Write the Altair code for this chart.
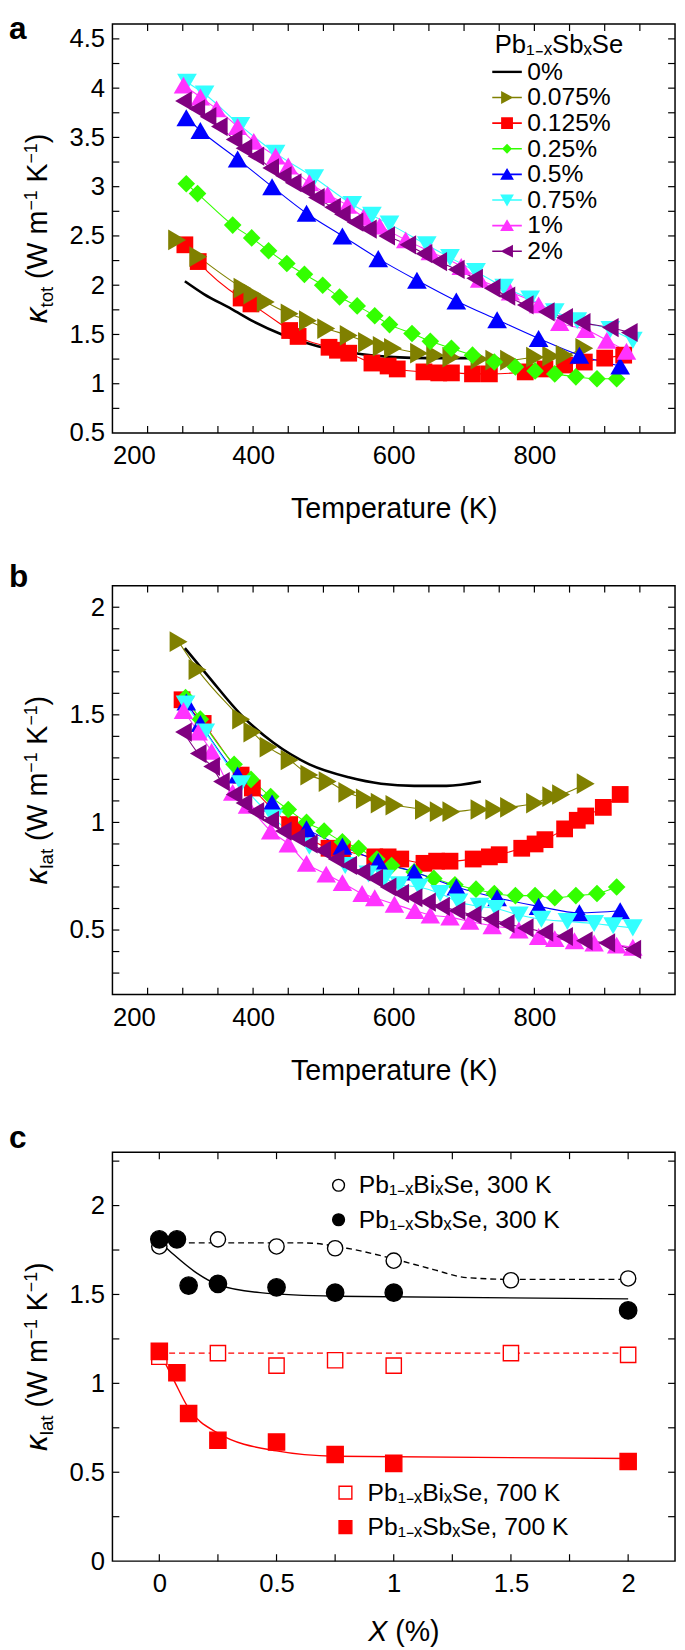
import altair as alt
import pandas as pd

FONT = "Liberation Sans"
W, H = 571, 415

SERIES = ["0%", "0.075%", "0.125%", "0.25%", "0.5%", "0.75%", "1%", "2%"]
COLORS = ["#000000", "#808000", "#ff0000", "#33ff00", "#0000ff", "#33ffff", "#ff33ff", "#800080"]
MARKER_SHAPES = ["circle", "triangle-right", "square", "diamond", "triangle-up",
                 "triangle-down", "triangle-up", "triangle-left"]
MARKER_SIZES = [10, 440, 290, 320, 400, 400, 390, 380]

LN = "M-1.5,-0.08L1.5,-0.08L1.5,0.08L-1.5,0.08Z"
LEGEND_PATHS = [
    "M-1.5,-0.12L1.5,-0.12L1.5,0.12L-1.5,0.12Z",
    LN + "M-0.6,-0.65L0.65,0L-0.6,0.65Z",
    LN + "M-0.6,-0.6L0.6,-0.6L0.6,0.6L-0.6,0.6Z",
    LN + "M0,-0.5L0.5,0L0,0.5L-0.5,0Z",
    LN + "M0,-0.65L0.7,0.55L-0.7,0.55Z",
    LN + "M-0.7,-0.55L0.7,-0.55L0,0.65Z",
    LN + "M0,-0.65L0.7,0.55L-0.7,0.55Z",
    LN + "M0.6,-0.65L0.6,0.65L-0.65,0Z",
]

# ---------------- panel a : total thermal conductivity ----------------
A_T_000 = [303, 330, 369, 401, 441, 492, 555, 600, 650, 700, 720]
A_K_000 = [2.04, 1.91, 1.76, 1.63, 1.50, 1.38, 1.30, 1.27, 1.26, 1.26, 1.26]
A_T_0075 = [292, 322, 385, 399, 418, 452, 478, 504, 536, 562, 583, 599, 636, 659, 682, 722, 743, 764, 801, 824, 843, 871]
A_K_0075 = [2.46, 2.29, 1.97, 1.91, 1.83, 1.71, 1.64, 1.56, 1.49, 1.42, 1.38, 1.36, 1.31, 1.29, 1.27, 1.25, 1.24, 1.24, 1.27, 1.28, 1.29, 1.36]
A_T_0125 = [303, 322, 383, 397, 452, 464, 508, 520, 536, 569, 592, 605, 643, 664, 682, 712, 736, 787, 815, 843, 871, 900, 927]
A_K_0125 = [2.41, 2.24, 1.87, 1.81, 1.54, 1.48, 1.37, 1.34, 1.31, 1.21, 1.18, 1.15, 1.12, 1.11, 1.11, 1.10, 1.10, 1.12, 1.15, 1.19, 1.22, 1.26, 1.29]
A_T_025 = [305, 321, 371, 398, 422, 448, 473, 499, 523, 548, 573, 594, 626, 652, 682, 712, 743, 773, 801, 829, 859, 889, 917]
A_K_025 = [3.03, 2.93, 2.61, 2.48, 2.35, 2.22, 2.11, 2.00, 1.88, 1.79, 1.69, 1.60, 1.51, 1.43, 1.36, 1.29, 1.22, 1.17, 1.13, 1.10, 1.07, 1.05, 1.05]
A_T_05 = [305, 325, 378, 427, 476, 527, 578, 633, 689, 747, 806, 864, 922]
A_K_05 = [3.70, 3.57, 3.28, 3.00, 2.73, 2.50, 2.27, 2.05, 1.84, 1.65, 1.46, 1.29, 1.18]
A_T_075 = [306, 331, 382, 432, 487, 541, 569, 594, 647, 680, 717, 757, 794, 829, 861, 908, 940]
A_K_075 = [4.06, 3.94, 3.62, 3.34, 3.09, 2.82, 2.71, 2.62, 2.41, 2.28, 2.14, 1.98, 1.86, 1.73, 1.64, 1.55, 1.44]
A_T_1 = [301, 325, 348, 378, 401, 432, 450, 480, 506, 534, 557, 580, 617, 652, 696, 722, 766, 806, 836, 873, 903, 931]
A_K_1 = [4.03, 3.91, 3.79, 3.61, 3.46, 3.31, 3.21, 3.04, 2.92, 2.81, 2.69, 2.60, 2.46, 2.34, 2.19, 2.06, 1.93, 1.80, 1.62, 1.55, 1.44, 1.33]
A_T_2 = [301, 320, 336, 352, 373, 387, 404, 425, 443, 457, 476, 490, 513, 527, 545, 564, 590, 620, 643, 664, 689, 715, 740, 761, 787, 817, 843, 868, 908, 935]
A_K_2 = [3.87, 3.79, 3.71, 3.61, 3.48, 3.39, 3.31, 3.19, 3.11, 3.04, 2.97, 2.89, 2.79, 2.72, 2.64, 2.57, 2.50, 2.41, 2.32, 2.24, 2.16, 2.07, 1.97, 1.89, 1.80, 1.73, 1.67, 1.62, 1.57, 1.52]

# ---------------- panel b : lattice thermal conductivity ----------------
B_T_000 = [303, 336, 383, 429, 480, 536, 582, 629, 675, 724]
B_K_000 = [1.81, 1.68, 1.50, 1.37, 1.27, 1.21, 1.18, 1.17, 1.17, 1.19]
B_T_0075 = [294, 321, 383, 399, 422, 452, 480, 506, 534, 559, 580, 601, 643, 664, 682, 722, 743, 764, 801, 824, 838, 873]
B_K_0075 = [1.84, 1.71, 1.48, 1.42, 1.35, 1.29, 1.22, 1.19, 1.14, 1.11, 1.09, 1.08, 1.06, 1.05, 1.05, 1.06, 1.06, 1.07, 1.09, 1.12, 1.13, 1.18]
B_T_0125 = [299, 329, 383, 399, 452, 464, 508, 527, 573, 592, 610, 643, 661, 680, 713, 736, 750, 782, 801, 815, 843, 861, 873, 898, 922]
B_K_0125 = [1.57, 1.46, 1.22, 1.16, 0.99, 0.96, 0.88, 0.87, 0.84, 0.84, 0.83, 0.81, 0.82, 0.82, 0.83, 0.84, 0.85, 0.88, 0.90, 0.92, 0.97, 1.01, 1.03, 1.07, 1.13]
B_T_025 = [304, 325, 373, 397, 425, 450, 476, 501, 527, 550, 576, 597, 629, 657, 687, 717, 743, 773, 801, 829, 859, 889, 917]
B_K_025 = [1.58, 1.48, 1.27, 1.20, 1.12, 1.06, 1.00, 0.96, 0.91, 0.88, 0.83, 0.80, 0.77, 0.74, 0.71, 0.69, 0.67, 0.66, 0.66, 0.65, 0.66, 0.67, 0.70]
B_T_05 = [305, 325, 378, 427, 476, 527, 578, 629, 689, 747, 806, 864, 922]
B_K_05 = [1.56, 1.46, 1.22, 1.09, 0.97, 0.89, 0.82, 0.77, 0.70, 0.65, 0.61, 0.58, 0.59]
B_T_075 = [304, 332, 383, 429, 480, 531, 564, 587, 608, 636, 666, 692, 722, 745, 778, 810, 847, 885, 912, 940]
B_K_075 = [1.55, 1.42, 1.18, 1.02, 0.89, 0.80, 0.76, 0.74, 0.71, 0.70, 0.67, 0.63, 0.61, 0.60, 0.57, 0.55, 0.54, 0.53, 0.52, 0.51]
B_T_1 = [301, 322, 341, 371, 392, 425, 450, 476, 504, 527, 555, 573, 601, 630, 652, 680, 708, 740, 778, 806, 829, 857, 885, 917, 940]
B_K_1 = [1.52, 1.42, 1.33, 1.14, 1.08, 0.96, 0.90, 0.81, 0.76, 0.72, 0.67, 0.65, 0.62, 0.59, 0.57, 0.56, 0.54, 0.52, 0.50, 0.47, 0.46, 0.45, 0.44, 0.43, 0.42]
B_T_2 = [301, 322, 341, 355, 373, 387, 404, 425, 443, 462, 480, 499, 518, 536, 555, 573, 592, 610, 629, 648, 668, 690, 713, 738, 760, 787, 815, 843, 871, 903, 940]
B_K_2 = [1.42, 1.32, 1.26, 1.19, 1.13, 1.09, 1.05, 1.01, 0.96, 0.93, 0.90, 0.87, 0.83, 0.80, 0.77, 0.74, 0.70, 0.67, 0.65, 0.63, 0.61, 0.59, 0.57, 0.55, 0.53, 0.51, 0.49, 0.47, 0.45, 0.44, 0.41]

# ---------------- panel c : lattice conductivity vs composition ----------------
C_NAMES_300 = ["Pb₁₋ₓBiₓSe, 300 K", "Pb₁₋ₓSbₓSe, 300 K"]
C_NAMES_700 = ["Pb₁₋ₓBiₓSe, 700 K", "Pb₁₋ₓSbₓSe, 700 K"]
C_X_BI = [0, 0.25, 0.5, 0.75, 1.0, 1.5, 2.0]
C_BI_300 = [1.77, 1.81, 1.77, 1.76, 1.69, 1.58, 1.59]
C_BI_700 = [1.15, 1.17, 1.10, 1.13, 1.10, 1.17, 1.16]
C_X_SB = [0, 0.075, 0.125, 0.25, 0.5, 0.75, 1.0, 2.0]
C_SB_300 = [1.81, 1.81, 1.55, 1.56, 1.54, 1.51, 1.51, 1.41]
C_SB_700 = [1.18, 1.06, 0.83, 0.68, 0.67, 0.60, 0.55, 0.56]
FIT_BI300_X = [0, 0.62, 0.8, 1.0, 1.17, 1.31, 1.5, 2.0]
FIT_BI300_Y = [1.79, 1.79, 1.76, 1.70, 1.64, 1.595, 1.585, 1.585]
FIT_SB300_X = [0, 0.065, 0.16, 0.25, 0.43, 0.75, 2.0]
FIT_SB300_Y = [1.80, 1.72, 1.62, 1.555, 1.51, 1.49, 1.475]
FIT_BI700_X = [0, 2.0]
FIT_BI700_Y = [1.17, 1.17]
FIT_SB700_X = [0, 0.065, 0.12, 0.25, 0.5, 0.75, 2.0]
FIT_SB700_Y = [1.18, 1.01, 0.87, 0.72, 0.62, 0.59, 0.577]
C_SIZES_300 = [240, 310]
C_SIZES_700 = [240, 270]

# ---------------- axes / ticks ----------------
T_DOMAIN = [200, 1000]
T_LABELS = [200, 400, 600, 800]
T_TICKS = list(range(250, 1000, 50))
A_DOMAIN = [0.5, 4.65]
A_LABELS = [0.5, 1, 1.5, 2, 2.5, 3, 3.5, 4, 4.5]
A_TICKS = [0.75 + 0.25 * i for i in range(16)]
B_DOMAIN = [0.2, 2.1]
B_LABELS = [0.5, 1, 1.5, 2]
B_TICKS = [round(0.3 + 0.1 * i, 2) for i in range(18)]
C_XDOMAIN = [-0.2, 2.2]
C_XLABELS = [0, 0.5, 1, 1.5, 2]
C_XTICKS = [0.25 * i for i in range(9)]
C_YDOMAIN = [0, 2.3]
C_YLABELS = [0, 0.5, 1, 1.5, 2]
C_YTICKS = [0.25 * i for i in range(1, 10)]

TICK_LEN = 7
LABEL_SIZE = 26
TITLE_SIZE = 29


def scale(dom):
    return alt.Scale(domain=dom, nice=False, zero=False)


def tick_layers(xt, yt, xdom, ydom, xaxis, yaxis):
    dx = pd.DataFrame({"v": xt})
    dy = pd.DataFrame({"v": yt})
    m = dict(color="black", strokeWidth=1.2)
    bottom = alt.Chart(dx).mark_rule(**m).encode(
        x=alt.X("v:Q", scale=scale(xdom), axis=xaxis), y=alt.value(H), y2=alt.value(H - TICK_LEN))
    top = alt.Chart(dx).mark_rule(**m).encode(
        x=alt.X("v:Q", scale=scale(xdom), axis=xaxis), y=alt.value(0), y2=alt.value(TICK_LEN))
    left = alt.Chart(dy).mark_rule(**m).encode(
        y=alt.Y("v:Q", scale=scale(ydom), axis=yaxis), x=alt.value(0), x2=alt.value(TICK_LEN))
    right = alt.Chart(dy).mark_rule(**m).encode(
        y=alt.Y("v:Q", scale=scale(ydom), axis=yaxis), x=alt.value(W), x2=alt.value(W - TICK_LEN))
    return [bottom, top, left, right]


def text_mark(t, x, y, size, style="normal", weight="normal", angle=0, align="left", baseline="alphabetic"):
    kw = dict(font=FONT, fontSize=size, fontStyle=style, fontWeight=weight, align=align,
              baseline=baseline, color="black")
    if angle:
        kw["angle"] = angle
    return alt.Chart(pd.DataFrame({"t": [t]})).mark_text(**kw).encode(
        text="t:N", x=alt.value(x), y=alt.value(y))


def letter(ch, dy):
    return text_mark(ch, -105, dy, 32, weight="bold")


# y-axis title "κ_sub (W m^-1 K^-1)" composed of rotated pieces
YT_BASE_X = -66


def y_title(sub, sub_w):
    pieces = [
        ("κ", 32, "italic", 0, 0, 16),
        (sub, 19, "normal", 6, 0, sub_w),
        ("(W m", TITLE_SIZE, "normal", 0, 8, 69.3),
        ("−1", 18, "normal", -11, 0, 20.5),
        ("K", TITLE_SIZE, "normal", 0, 8, 19.3),
        ("−1", 18, "normal", -11, 0, 20.5),
        (")", TITLE_SIZE, "normal", 0, 0, 9.7),
    ]
    total = sum(p[4] + p[5] for p in pieces)
    y = H / 2 + total / 2
    marks = []
    for t, fs, st, shift, gap, w in pieces:
        y -= gap
        marks.append(text_mark(t, YT_BASE_X + shift, y, fs, style=st, angle=270))
        y -= w
    return marks


def long_df(pairs):
    rows = []
    for name, ts, ks in pairs:
        sz = MARKER_SIZES[SERIES.index(name)]
        for t, k in zip(ts, ks):
            rows.append({"series": name, "T": t, "k": k, "sz": sz})
    return pd.DataFrame(rows)


def temp_panel(pairs, ydom, ylabels, yticks, sub, sub_w, ch, ch_dy, with_legend):
    df = long_df(pairs)
    black = df[df.series == SERIES[0]]
    rest = df[df.series != SERIES[0]]
    xaxis = alt.Axis(values=T_LABELS, title="Temperature (K)", labelPadding=10, titlePadding=27)
    yaxis = alt.Axis(values=ylabels, title=None, format="~g", labelPadding=8)
    xenc = alt.X("T:Q", scale=scale(T_DOMAIN), axis=xaxis)
    yenc = alt.Y("k:Q", scale=scale(ydom), axis=yaxis)
    cscale = alt.Scale(domain=SERIES, range=COLORS)
    lines = alt.Chart(rest).mark_line(strokeWidth=1.1, interpolate="monotone").encode(
        x=xenc, y=yenc, color=alt.Color("series:N", scale=cscale, legend=None), detail="series:N")
    bline = alt.Chart(black).mark_line(strokeWidth=2.6, color="black", interpolate="monotone").encode(
        x=xenc, y=yenc)
    pts = alt.Chart(rest).mark_point(filled=True, opacity=1, strokeWidth=0).encode(
        x=xenc, y=yenc,
        color=alt.Color("series:N", scale=cscale, legend=None),
        shape=alt.Shape("series:N", scale=alt.Scale(domain=SERIES, range=MARKER_SHAPES), legend=None),
        size=alt.Size("sz:Q", scale=None),
    )
    layers = ([lines, bline, pts] + tick_layers(T_TICKS, yticks, T_DOMAIN, ydom, xaxis, yaxis)
              + [letter(ch, ch_dy)] + y_title(sub, sub_w))
    if with_legend:
        leg = alt.Legend(
            title="Pb₁₋ₓSbₓSe", orient="none", legendX=388, legendY=8,
            titleFont=FONT, titleFontSize=26, titleFontWeight="normal", titleColor="black",
            titlePadding=2, titleLimit=400,
            labelFont=FONT, labelFontSize=25, labelColor="black", labelOffset=8, labelLimit=300,
            symbolSize=400, symbolStrokeWidth=0, symbolOpacity=1, rowPadding=0, padding=0,
        )
        dummy = alt.Chart(pd.DataFrame({"series": SERIES})).transform_filter("false").mark_point(
            filled=True, opacity=1, size=400, strokeWidth=0
        ).encode(
            color=alt.Color("series:N", scale=alt.Scale(domain=SERIES, range=COLORS), legend=leg),
            shape=alt.Shape("series:N", scale=alt.Scale(domain=SERIES, range=LEGEND_PATHS), legend=leg),
        )
        layers.append(dummy)
    return alt.layer(*layers).resolve_scale(color="independent", shape="independent").properties(
        width=W, height=H)


panel_a = temp_panel(
    [(SERIES[0], A_T_000, A_K_000), (SERIES[2], A_T_0125, A_K_0125), (SERIES[1], A_T_0075, A_K_0075),
     (SERIES[3], A_T_025, A_K_025), (SERIES[4], A_T_05, A_K_05), (SERIES[5], A_T_075, A_K_075),
     (SERIES[6], A_T_1, A_K_1), (SERIES[7], A_T_2, A_K_2)],
    A_DOMAIN, A_LABELS, A_TICKS, "tot", 21.1, "a", 15, True)

panel_b = temp_panel(
    [(SERIES[0], B_T_000, B_K_000), (SERIES[2], B_T_0125, B_K_0125), (SERIES[1], B_T_0075, B_K_0075),
     (SERIES[3], B_T_025, B_K_025), (SERIES[4], B_T_05, B_K_05), (SERIES[5], B_T_075, B_K_075),
     (SERIES[6], B_T_1, B_K_1), (SERIES[7], B_T_2, B_K_2)],
    B_DOMAIN, B_LABELS, B_TICKS, "lat", 20.1, "b", 1, False)

# ---- panel c ----
df300 = pd.DataFrame({"x": C_X_BI + C_X_SB,
                      "k": C_BI_300 + C_SB_300,
                      "series": [C_NAMES_300[0]] * len(C_X_BI) + [C_NAMES_300[1]] * len(C_X_SB),
                      "sz": [C_SIZES_300[0]] * len(C_X_BI) + [C_SIZES_300[1]] * len(C_X_SB)})
df700 = pd.DataFrame({"x": C_X_BI + C_X_SB,
                      "k": C_BI_700 + C_SB_700,
                      "series": [C_NAMES_700[0]] * len(C_X_BI) + [C_NAMES_700[1]] * len(C_X_SB),
                      "sz": [C_SIZES_700[0]] * len(C_X_BI) + [C_SIZES_700[1]] * len(C_X_SB)})

cxaxis = alt.Axis(values=C_XLABELS, title=None, format="~g", labelPadding=10)
cyaxis = alt.Axis(values=C_YLABELS, title=None, format="~g", labelPadding=8)
cx = alt.X("x:Q", scale=scale(C_XDOMAIN), axis=cxaxis)
cy = alt.Y("k:Q", scale=scale(C_YDOMAIN), axis=cyaxis)


def fit_line(xs, ys, color, dash):
    d = pd.DataFrame({"x": xs, "k": ys})
    kw = dict(color=color, strokeWidth=1.4, interpolate="monotone")
    if dash:
        kw["strokeDash"] = [6, 4]
    return alt.Chart(d).mark_line(**kw).encode(x=cx, y=cy)


def c_legend(x, y, size, offset):
    return alt.Legend(title=None, orient="none", legendX=x, legendY=y,
                      labelFont=FONT, labelFontSize=25, labelColor="black", labelOffset=offset, labelLimit=400,
                      symbolSize=size, symbolStrokeWidth=1.4, symbolOpacity=1, rowPadding=9, padding=0)


pts300 = alt.Chart(df300).mark_point(shape="circle", stroke="black", strokeWidth=1.4, opacity=1).encode(
    x=cx, y=cy,
    fill=alt.Fill("series:N", scale=alt.Scale(domain=C_NAMES_300, range=["white", "black"]),
                  legend=c_legend(217, 21, 144, 8)),
    size=alt.Size("sz:Q", scale=None),
)
pts700 = alt.Chart(df700).mark_point(shape="square", stroke="#ff0000", strokeWidth=1.4, opacity=1).encode(
    x=cx, y=cy,
    fill=alt.Fill("series:N", scale=alt.Scale(domain=C_NAMES_700, range=["white", "#ff0000"]),
                  legend=c_legend(224, 333, 169, 10)),
    size=alt.Size("sz:Q", scale=None),
)

panel_c = alt.layer(
    fit_line(FIT_BI300_X, FIT_BI300_Y, "black", True),
    fit_line(FIT_SB300_X, FIT_SB300_Y, "black", False),
    fit_line(FIT_BI700_X, FIT_BI700_Y, "#ff0000", True),
    fit_line(FIT_SB700_X, FIT_SB700_Y, "#ff0000", False),
    pts300, pts700,
    *tick_layers(C_XTICKS, C_YTICKS, C_XDOMAIN, C_YDOMAIN, cxaxis, cyaxis),
    letter("c", -4),
    text_mark("X", 279, H + 72, TITLE_SIZE, style="italic", align="right", baseline="middle"),
    text_mark("(%)", 287, H + 72, TITLE_SIZE, align="left", baseline="middle"),
    *y_title("lat", 20.1),
).resolve_scale(fill="independent").properties(width=W, height=H)

chart = alt.vconcat(panel_a, panel_b, panel_c, spacing=36).properties(
    padding={"left": 0, "top": -8, "right": 0, "bottom": 0}
).configure_view(stroke="black", strokeWidth=1.5).configure_axis(
    labelFont=FONT, labelFontSize=LABEL_SIZE, labelColor="black",
    titleFont=FONT, titleFontSize=TITLE_SIZE, titleFontWeight="normal", titleColor="black",
    grid=False, ticks=False, domain=False,
)

chart.save("out.html", embed_options={"renderer": "svg", "actions": False})
